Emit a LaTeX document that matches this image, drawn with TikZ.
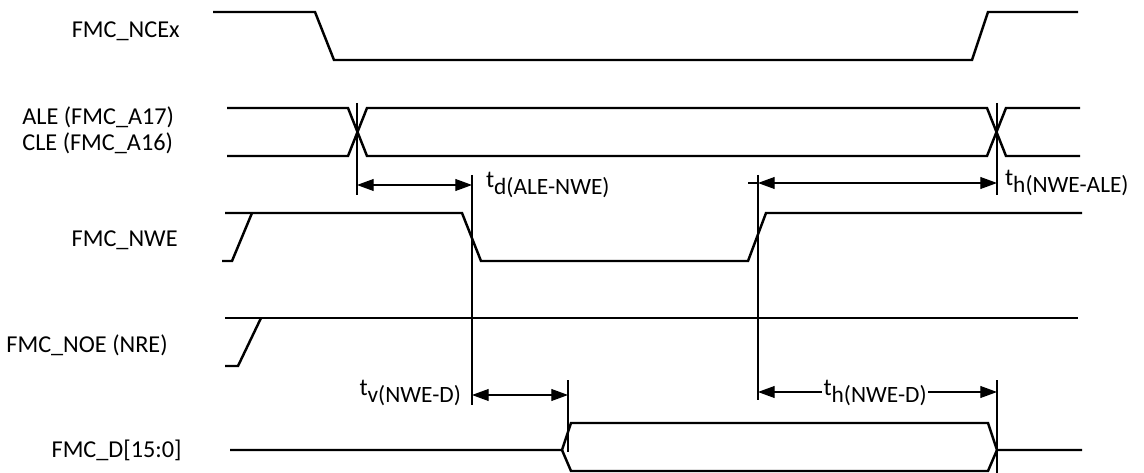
\documentclass[tikz,border=0pt]{standalone}
\usepackage{fontspec}
\setmainfont{Carlito}
\usetikzlibrary{arrows.meta,positioning,calc}

\newcommand{\tlbl}[2]{t\raisebox{-0.55ex}{\fontsize{13.3}{15}\selectfont #1(#2)}}

\begin{document}
\begin{tikzpicture}[x=0.02cm,y=-0.02cm,
  sig/.style={line width=1.4pt},
  guide/.style={line width=0.6pt},
  dim/.style={line width=0.6pt,{Triangle[length=9.5pt,width=6.8pt]}-{Triangle[length=9.5pt,width=6.8pt]}},
  lbl/.style={font=\fontsize{13.8}{16}\selectfont, inner sep=0pt},
  tim/.style={font=\fontsize{13.8}{16}\selectfont, inner sep=1pt}]
\useasboundingbox (0,0) rectangle (1144,473);

% Signal names
\node[lbl, anchor=east] (ncex) at (180,31) {FMC\_NCEx};
\node[lbl, anchor=west] (ale) at (22,117) {ALE (FMC\_A17)};
\node[lbl, anchor=west] (cle) at (22,143) {CLE (FMC\_A16)};
\node[lbl, anchor=east] (nwe) at (178,240) {FMC\_NWE};
\node[lbl, anchor=east] (noe) at (168,345) {FMC\_NOE (NRE)};
\node[lbl, anchor=east] (data) at (182,450) {FMC\_D[15:0]};

% Waveforms
\draw[sig] (213,12) -- (315,12) -- (334,60) -- (972,60) -- (988,12) -- (1078,12);
\draw[sig] (227,108) -- (348,108) -- (367,156) -- (987,156) -- (1006,108) -- (1080,108);
\draw[sig] (227,156) -- (348,156) -- (367,108) -- (987,108) -- (1006,156) -- (1080,156);
\draw[sig] (222,261) -- (232,261) -- (252,213);
\draw[sig] (225,213) -- (462,213) -- (481,261) -- (748,261) -- (766,213) -- (1082,213);
\draw[sig] (225,366) -- (238,366) -- (261,318);
\draw[sig] (225,318) -- (1078,318);
\draw[sig] (230,450) -- (562,450) -- (571,423) -- (988,423) -- (997,450) -- (1082,450);
\draw[sig] (562,450) -- (571,471) -- (988,471) -- (997,450);

% Reference lines
\draw[guide] (357,103) -- (357,195);
\draw[guide] (472,175) -- (472,405);
\draw[guide] (758,175) -- (758,400);
\draw[guide] (997,103) -- (997,195);
\draw[guide] (568,380) -- (568,452);
\draw[guide] (997,380) -- (997,473);

% Timing arrows
\coordinate (tda) at (357,185);
\coordinate (tdb) at (472,185);
\coordinate (tha) at (758,183);
\coordinate (thb) at (997,183);
\coordinate (thx) at (748,183);
\coordinate (tva) at (472,395);
\coordinate (tvb) at (568,395);
\coordinate (hda) at (758,392);
\coordinate (hdb) at (997,392);
\draw[dim] (tda) -- (tdb);
\draw[dim] (tha) -- (thb);
\draw[guide] (thx) -- (tha);
\draw[dim] (tva) -- (tvb);
\draw[dim] (hda) -- (hdb);

% Timing labels
\node[tim, anchor=west] (td) at ($(tdb)+(12,0)$) {\tlbl{d}{ALE-NWE}};
\node[tim, anchor=west] (th) at ($(thb)+(6,0)$) {\tlbl{h}{NWE-ALE}};
\node[tim, anchor=east] (tv) at ($(tva)+(-9,-2)$) {\tlbl{v}{NWE-D}};
\node[tim, fill=white] (thd) at ($(hda)!0.49!(hdb)+(0,1)$) {\tlbl{h}{NWE-D}};
\end{tikzpicture}
\end{document}
